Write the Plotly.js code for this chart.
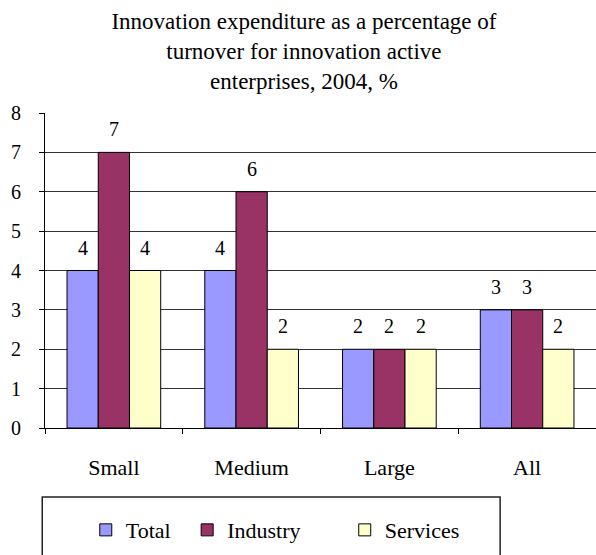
<!DOCTYPE html>
<html>
<head>
<meta charset="utf-8">
<script src="https://cdn.plot.ly/plotly-3.0.1.min.js"></script>
<style>html,body{margin:0;padding:0;background:#fff;}#chart{width:596px;height:555px;}</style>
</head>
<body>
<div id="chart"></div>
<script>
const categories = ["Small", "Medium", "Large", "All"];
const totalValues = [4, 4, 2, 3];
const industryValues = [7, 6, 2, 3];
const servicesValues = [4, 2, 2, 2];
const seriesNames = ["Total", "Industry", "Services"];
const yTicks = [0, 1, 2, 3, 4, 5, 6, 7, 8];

const FONT = "Liberation Serif";
const colors = ["#9999FF", "#993366", "#FFFFCC"];
const values = [totalValues, industryValues, servicesValues];
const legendIds = ["legend", "legend2", "legend3"];
const BARGAP = 0.32;
const barW = (1 - BARGAP) / values.length;

const traces = values.map((v, i) => ({
  type: "bar",
  name: seriesNames[i],
  x: categories,
  y: v,
  marker: {color: colors[i], line: {color: "#000", width: 1}},
  legend: legendIds[i],
  hoverinfo: "skip"
}));

// value labels above bars, placed through the axes' scales
const annotations = [];
values.forEach((v, i) => {
  v.forEach((val, j) => {
    annotations.push({
      xref: "x", yref: "y",
      x: j + (i - (values.length - 1) / 2) * barW,
      y: val,
      text: String(val),
      showarrow: false,
      yanchor: "bottom",
      yshift: 10,
      font: {family: FONT, size: 20, color: "#000"}
    });
  });
});

const legendBase = {
  orientation: "h",
  yanchor: "middle",
  xanchor: "left",
  y: -0.324,
  bgcolor: "rgba(0,0,0,0)",
  borderwidth: 0,
  font: {family: FONT, size: 22, color: "#000"}
};

const layout = {
  width: 596,
  height: 555,
  margin: {l: 45, r: 0, t: 113, b: 127},
  paper_bgcolor: "#fff",
  plot_bgcolor: "#fff",
  font: {family: FONT, color: "#000"},
  barmode: "group",
  bargap: BARGAP,
  bargroupgap: 0,
  title: {
    text: "Innovation expenditure as a percentage of<br>turnover for innovation active<br>enterprises, 2004, %",
    font: {family: FONT, size: 23, color: "#000"},
    x: 0.51,
    xanchor: "center",
    y: 0.948,
    yanchor: "top",
    yref: "container"
  },
  xaxis: {
    type: "category",
    showline: true,
    linecolor: "#000",
    linewidth: 1,
    ticks: "outside",
    tickson: "boundaries",
    ticklen: 5,
    tickcolor: "#000",
    ticklabelstandoff: 20,
    tickfont: {family: FONT, size: 22, color: "#000"},
    showgrid: false
  },
  yaxis: {
    range: [0, 8],
    tickvals: yTicks,
    showline: true,
    linecolor: "#000",
    linewidth: 1,
    ticks: "outside",
    ticklen: 5,
    tickcolor: "#000",
    ticklabelstandoff: 14,
    tickfont: {family: FONT, size: 20, color: "#000"},
    showgrid: true,
    gridcolor: "#333",
    gridwidth: 1,
    zeroline: false
  },
  legend: Object.assign({}, legendBase, {x: 0.074}),
  legend2: Object.assign({}, legendBase, {x: 0.258}),
  legend3: Object.assign({}, legendBase, {x: 0.544}),
  annotations: annotations,
  shapes: [{
    type: "rect",
    xref: "paper", yref: "paper",
    x0: -0.005, x1: 0.826, y0: -0.219, y1: -0.45,
    line: {color: "#222", width: 1.5},
    fillcolor: "rgba(0,0,0,0)",
    layer: "below"
  }],
  showlegend: true
};

Plotly.newPlot("chart", traces, layout, {displayModeBar: false, staticPlot: true});
</script>
</body>
</html>
